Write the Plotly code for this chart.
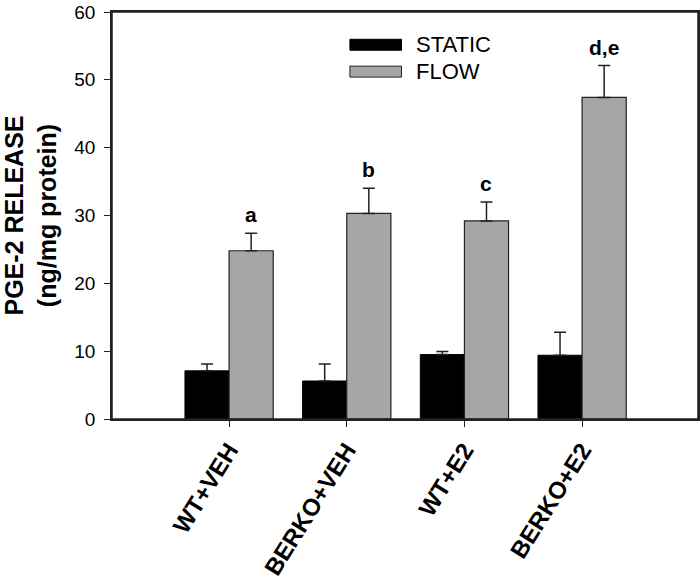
import plotly.graph_objects as go

categories = ["WT+VEH", "BERKO+VEH", "WT+E2", "BERKO+E2"]
series_names = ["STATIC", "FLOW"]
static_vals = [7.1, 5.6, 9.5, 9.4]
static_err = [1.0, 2.5, 0.45, 3.4]
flow_vals = [24.8, 30.3, 29.2, 47.4]
flow_err = [2.6, 3.7, 2.8, 4.7]
flow_labels = ["a", "b", "c", "d,e"]
y_ticks = [0, 10, 20, 30, 40, 50, 60]

FONT = "Liberation Sans, Arial, sans-serif"
GRAY = "#a6a6a6"
LINE = "#222222"

fig = go.Figure()
fig.add_trace(go.Bar(
    x=categories, y=static_vals, name=series_names[0],
    marker=dict(color="black", line=dict(color="black", width=1)),
    error_y=dict(type="data", array=static_err, arrayminus=[0] * 4, symmetric=False,
                 color=LINE, thickness=1.5, width=6),
    showlegend=False,
))
fig.add_trace(go.Bar(
    x=categories, y=flow_vals, name=series_names[1],
    marker=dict(color=GRAY, line=dict(color=LINE, width=1.2)),
    error_y=dict(type="data", array=flow_err, arrayminus=[0] * 4, symmetric=False,
                 color=LINE, thickness=1.5, width=6),
    showlegend=False,
))

# significance letters above flow bars
for i, (cat, v, e, lab) in enumerate(zip(categories, flow_vals, flow_err, flow_labels)):
    fig.add_annotation(x=i + 0.1875, y=v + e, xref="x", yref="y", text=f"<b>{lab}</b>",
                       showarrow=False, yanchor="bottom", yshift=5,
                       font=dict(family=FONT, size=21, color="black"))

# custom legend
legend_items = [(series_names[0], "black", "black", 0.9195), (series_names[1], GRAY, LINE, 0.8535)]
for name, fill, edge, yc in legend_items:
    fig.add_shape(type="rect", xref="paper", yref="paper",
                  x0=0.406, x1=0.494, y0=yc - 0.0135, y1=yc + 0.0135,
                  fillcolor=fill, line=dict(color=edge, width=1))
    fig.add_annotation(xref="paper", yref="paper", x=0.516, y=yc, text=name,
                       showarrow=False, xanchor="left", yanchor="middle",
                       font=dict(family=FONT, size=22, color="black"))

# plot frame
fig.add_shape(type="rect", xref="paper", yref="paper", x0=0, x1=1, y0=0, y1=1,
              line=dict(color=LINE, width=1.5), fillcolor="rgba(0,0,0,0)", layer="above")

fig.update_layout(
    width=700, height=583,
    margin=dict(l=112, r=2, t=12, b=164),
    paper_bgcolor="white", plot_bgcolor="white",
    barmode="group", bargap=0.25, bargroupgap=0,
    font=dict(family=FONT, color="black"),
    xaxis=dict(
        type="category", range=[-0.995, 3.985], automargin=False,
        showline=True, linecolor=LINE, linewidth=1.5, mirror=True,
        ticks="outside", ticklen=6, tickwidth=1.2, tickcolor=LINE,
        tickangle=-58, tickfont=dict(family=FONT, size=24, color="black"),
        tickprefix="<b>", ticksuffix="</b>", showgrid=False,
    ),
    yaxis=dict(
        range=[0, 60], tickvals=y_ticks, automargin=False,
        showline=True, linecolor=LINE, linewidth=1.5, mirror=True,
        ticks="outside", ticklen=6, tickwidth=1.2, tickcolor=LINE,
        tickfont=dict(family=FONT, size=19, color="black"),
        ticklabelstandoff=5, ticklabeloverflow="allow",
        showgrid=False, zeroline=False,
        title=dict(text="<b>PGE-2 RELEASE<br>(ng/mg protein)</b>",
                   font=dict(family=FONT, size=25, color="black"), standoff=27),
    ),
)

fig.write_html("out.html", post_script="document.body.style.margin='0';",
               config={"displayModeBar": False})
